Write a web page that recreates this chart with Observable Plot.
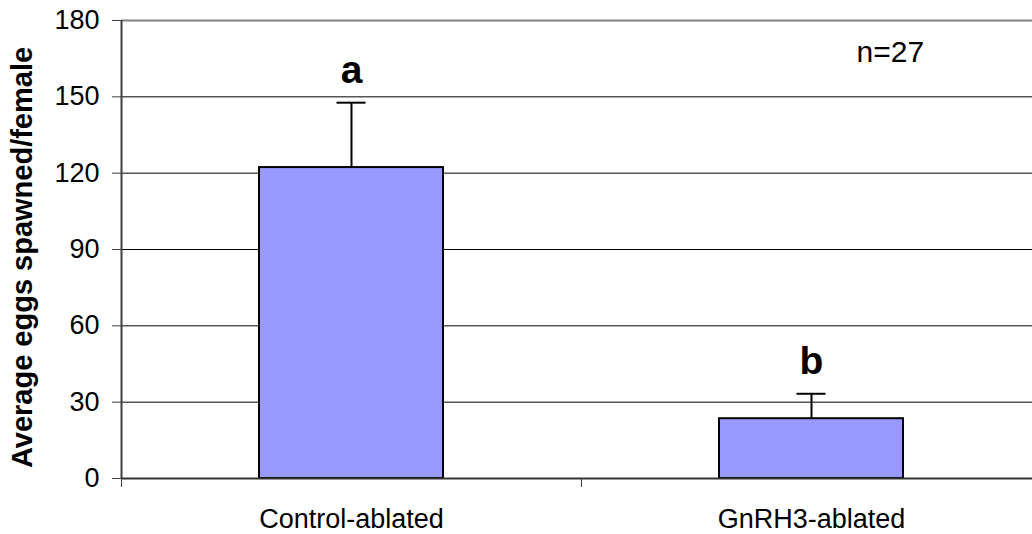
<!DOCTYPE html>
<html>
<head>
<meta charset="utf-8">
<script src="https://cdn.jsdelivr.net/npm/d3@7"></script>
<script src="https://cdn.jsdelivr.net/npm/@observablehq/plot@0.6"></script>
<style>
  html, body { margin: 0; padding: 0; background: white; overflow: hidden; }
</style>
</head>
<body>
<div id="chart"></div>
<script>
const categories = ["Control-ablated", "GnRH3-ablated"];
const means = [122.2, 23.5];
const errors = [25.5, 9.8];
const letters = ["a", "b"];
const yTicks = [0, 30, 60, 90, 120, 150, 180];
const yTitle = "Average eggs spawned/female";
const note = "n=27";

const data = categories.map((c, i) => ({
  cat: c, i, mean: means[i], err: errors[i], top: means[i] + errors[i], letter: letters[i]
}));

const font = "'Liberation Sans', Arial, Helvetica, sans-serif";

const chart = Plot.plot({
  width: 1032,
  height: 534,
  marginLeft: 121,
  marginTop: 20,
  marginBottom: 56,
  marginRight: 0,
  style: { fontFamily: font, fontSize: "27px", color: "black", background: "white" },
  x: { type: "linear", domain: [0, categories.length], range: [121, 1041] },
  y: { domain: [0, 180], range: [478, 20] },
  marks: [
    Plot.ruleY(yTicks.filter(t => t > 0 && t < 180), { stroke: "#000", strokeWidth: 1 }),
    Plot.ruleY([180], { stroke: "#808080", strokeWidth: 2 }),
    Plot.rectY(data, {
      x1: d => d.i + 0.3, x2: d => d.i + 0.7, y: "mean",
      fill: "#9999ff", stroke: "#000", strokeWidth: 2
    }),
    Plot.ruleX(data, { x: d => d.i + 0.5, y1: "mean", y2: "top", stroke: "#000", strokeWidth: 2 }),
    Plot.ruleY(data, { y: "top", x1: d => d.i + 0.5 - 0.0315, x2: d => d.i + 0.5 + 0.0315, stroke: "#000", strokeWidth: 2 }),
    Plot.text(data, {
      x: d => d.i + 0.5, y: "top", text: "letter", dy: -20, lineAnchor: "bottom",
      fontSize: 39, fontWeight: "bold", fill: "#000"
    }),
    Plot.ruleY([0], { stroke: "#333", strokeWidth: 2 }),
    Plot.ruleX([0], { stroke: "#404040", strokeWidth: 2 }),
    Plot.axisY({ ticks: yTicks, tickSize: 9, tickPadding: 13, fontSize: 27, label: null, stroke: "#404040" }),
    Plot.axisX({ ticks: d3.range(0, categories.length + 1), tickSize: 9, tickFormat: () => "", label: null, stroke: "#404040" }),
    Plot.axisX({ ticks: categories.map((c, i) => i + 0.5), tickSize: 0, tickPadding: 30, fontSize: 27,
      tickFormat: d => categories[Math.floor(d)], label: null }),
    Plot.text([yTitle], {
      frameAnchor: "left", textAnchor: "middle", lineAnchor: "middle", rotate: -90, dx: -99, dy: 8,
      fontSize: 29, fontWeight: "bold", fill: "#000"
    }),
    Plot.text([note], {
      x: 1.598, y: 163.5, textAnchor: "start", lineAnchor: "bottom", fontSize: 30, fill: "#000"
    })
  ]
});

document.getElementById("chart").appendChild(chart);
</script>
</body>
</html>
